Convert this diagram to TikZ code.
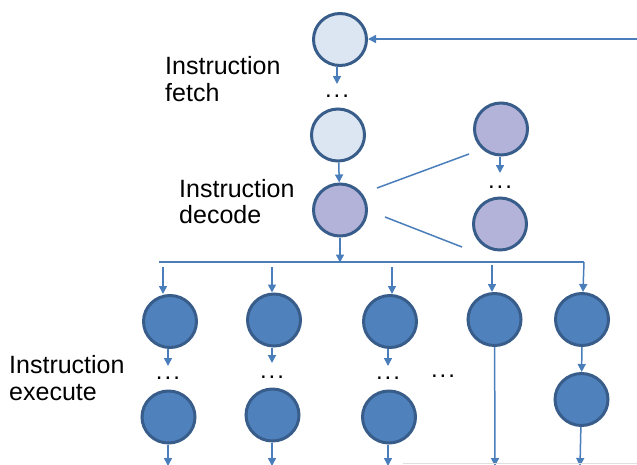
\documentclass[tikz,border=0pt]{standalone}
\usepackage{fontspec}
\setmainfont{Liberation Sans}
\usetikzlibrary{shapes.geometric,arrows.meta}
\definecolor{rim}{HTML}{385D8A}
\definecolor{fetchfill}{HTML}{DCE6F2}
\definecolor{decfill}{HTML}{B3B3DA}
\definecolor{exfill}{HTML}{4F81BD}
\definecolor{wire}{HTML}{4A7EBB}
\newcommand{\mydots}{.\hspace{2pt}.\hspace{2pt}.}
\tikzset{
  stage/.style={ellipse, draw=rim, line width=3pt, minimum width=53pt, minimum height=52pt, inner sep=0pt},
  fetchst/.style={stage, fill=fetchfill},
  decst/.style={stage, fill=decfill},
  exst/.style={stage, fill=exfill},
  arr/.style={draw=wire, line width=1.5pt, -{Triangle[width=8pt,length=8pt]}},
  plain/.style={draw=wire, line width=1.5pt},
  lbl/.style={anchor=base west, inner sep=0pt, font=\fontsize{25}{28}\selectfont},
  dotsn/.style={inner sep=0pt, font=\fontsize{24}{27}\selectfont}
}
\begin{document}
\begin{tikzpicture}[x=1pt,y=-1pt]
\useasboundingbox (0,0) rectangle (637,464);
% fetch
\node[fetchst] (F1) at (340,39.5) {};
\node[dotsn] (dA) at (337,96) {\mydots};
\node[fetchst] (F2) at (338,135) {};
% decode
\node[decst] (D1) at (340,210) {};
\node[decst] (R1) at (501,129) {};
\node[dotsn] (dB) at (500,187) {\mydots};
\node[decst] (R2) at (500,224) {};
% execute
\node[exst] (E1) at (170,321.5) {};
\node[exst] (E1b) at (168.5,417) {};
\node[exst] (E2) at (274,320) {};
\node[exst] (E2b) at (272.5,415) {};
\node[exst] (E3) at (390,321.5) {};
\node[exst] (E3b) at (389,417) {};
\node[exst] (E4) at (494.5,319.5) {};
\node[exst] (E5) at (582,319.5) {};
\node[exst] (E5b) at (581.5,399.5) {};
\node[dotsn] (d1) at (168,378.5) {\mydots};
\node[dotsn] (d2) at (272,377) {\mydots};
\node[dotsn] (d3) at (388,378.5) {\mydots};
\node[dotsn] (d4) at (443,376) {\mydots};
% labels
\node[lbl] (lf1) at (165,74) {Instruction};
\node[lbl] (lf2) at (165,101) {fetch};
\node[lbl] (ld1) at (179,197) {Instruction};
\node[lbl] (ld2) at (179,223) {decode};
\node[lbl] (le1) at (9,373) {Instruction};
\node[lbl] (le2) at (9,400) {execute};
% coordinates
\coordinate (fbR) at (640,39);
\coordinate (tA) at (337,84);
\coordinate (tB) at (500,173);
\coordinate (cu1) at (377,188);
\coordinate (cu2) at (469,154);
\coordinate (cl1) at (385,217);
\coordinate (cl2) at (462,247);
\coordinate (busL) at (159,262);
\coordinate (busR) at (584,262);
\coordinate (busM) at (340,262.5);
\coordinate (s1) at (163,267);
\coordinate (s2) at (272,267);
\coordinate (s3) at (392,267);
\coordinate (s4) at (492,265);
\coordinate (t1) at (168,366);
\coordinate (t2) at (272,363);
\coordinate (t3) at (388,366);
\coordinate (b1) at (168,466);
\coordinate (b2) at (272,466);
\coordinate (b3) at (388,466);
\coordinate (b4) at (495,466);
\coordinate (b5) at (580,466);
\coordinate (gL) at (403,463.5);
\coordinate (gR) at (637,463.5);
% connectors
\draw[arr] (fbR) -- (fbR -| F1.east);
\draw[arr] (tA |- F1.south) -- (tA);
\draw[arr] (F2) -- (D1);
\draw[arr] (tB |- R1.south) -- (tB);
\draw[plain] (cu1) -- (cu2);
\draw[plain] (cl1) -- (cl2);
\draw[arr] (D1) -- (busM);
\draw[plain] (busL) -- (busR);
\draw[arr] (busR) -- (E5);
\draw[arr] (s1) -- (s1 |- E1.north);
\draw[arr] (s2) -- (s2 |- E2.north);
\draw[arr] (s3) -- (s3 |- E3.north);
\draw[arr] (s4) -- (s4 |- E4.north);
\draw[arr] (t1 |- E1.south) -- (t1);
\draw[arr] (t2 |- E2.south) -- (t2);
\draw[arr] (t3 |- E3.south) -- (t3);
\draw[arr] (b1 |- E1b.south) -- (b1);
\draw[arr] (b2 |- E2b.south) -- (b2);
\draw[arr] (b3 |- E3b.south) -- (b3);
\draw[arr] (E4) -- (b4);
\draw[arr] (E5) -- (E5b);
\draw[arr] (E5b) -- (b5);
\draw[gray!25, line width=1pt] (gL) -- (gR);
\end{tikzpicture}
\end{document}
